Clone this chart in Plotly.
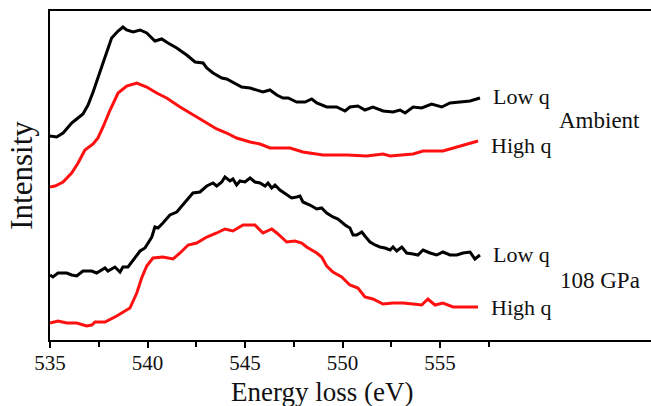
import plotly.graph_objects as go

# ---- Data (energy loss in eV, intensity in arbitrary units) ----
amb_low_E = [535.0, 535.34, 535.67, 536.11, 536.37, 536.69, 536.95, 537.21, 537.56, 537.91,
             538.16, 538.49, 538.74, 538.93, 539.26, 539.62, 539.96, 540.38, 540.73, 541.05,
             541.50, 542.01, 542.44, 542.85, 543.04, 543.36, 543.81, 544.06, 544.38, 544.83,
             545.26, 545.60, 545.92, 546.28, 546.63, 546.95, 547.21, 547.65, 548.08, 548.42,
             548.68, 549.19, 549.70, 550.13, 550.38, 550.79, 551.15, 551.56, 552.08, 552.59,
             552.95, 553.21, 553.62, 554.06, 554.57, 555.09, 555.51, 556.03, 556.54, 557.05]
amb_low_I = [204, 203, 207, 217, 221, 226, 235, 248, 268, 288,
             302, 309, 313, 310, 308, 310, 307, 299, 301, 297,
             292, 285, 278, 277, 272, 267, 262, 261, 258, 253,
             252, 250, 248, 250, 245, 242, 242, 238, 238, 241,
             237, 233, 233, 229, 233, 234, 230, 233, 229, 228,
             230, 227, 233, 232, 236, 233, 237, 238, 239, 242]

amb_high_E = [535.0, 535.26, 535.67, 536.11, 536.44, 536.79, 537.21, 537.46, 537.72, 538.08,
              538.49, 538.93, 539.45, 539.96, 540.47, 540.98, 541.67, 542.33, 543.04, 543.55,
              544.06, 544.57, 545.26, 545.77, 546.28, 547.31, 547.97, 549.0, 550.22, 551.24,
              552.08, 552.44, 553.62, 554.13, 555.15, 555.86, 556.95]
amb_high_I = [153, 154, 158, 167, 177, 190, 196, 202, 213, 230,
              247, 254, 257, 253, 247, 242, 233, 225, 217, 211,
              207, 202, 198, 196, 192, 192, 188, 185, 185, 184,
              186, 184, 186, 189, 189, 193, 199]

gpa_low_E = [535.0, 535.15, 535.41, 535.86, 536.11, 536.37, 536.69, 537.14, 537.39, 537.82,
             537.97, 538.33, 538.59, 538.74, 539.0, 539.26, 539.62, 539.87, 540.22, 540.38,
             540.54, 540.79, 541.15, 541.50, 542.01, 542.33, 542.69, 543.04, 543.36, 543.55,
             543.81, 543.97, 544.23, 544.38, 544.57, 544.74, 545.0, 545.26, 545.51, 545.77,
             546.03, 546.18, 546.37, 546.54, 546.79, 547.14, 547.39, 547.65, 547.82, 547.97,
             548.33, 548.68, 548.93, 549.19, 549.51, 549.77, 550.13, 550.38, 550.54, 550.73,
             550.99, 551.15, 551.41, 551.67, 551.92, 552.18, 552.44, 552.59, 552.78, 553.04,
             553.29, 553.62, 553.87, 554.13, 554.49, 554.83, 555.15, 555.51, 555.86, 556.18,
             556.54, 556.79, 557.05]
gpa_low_I = [65, 63, 67, 67, 65, 64, 69, 69, 67, 72,
             69, 73, 68, 73, 73, 80, 89, 92, 103, 113,
             112, 117, 125, 128, 140, 147, 148, 154, 157, 154,
             158, 163, 159, 161, 155, 159, 158, 162, 158, 157,
             154, 157, 152, 155, 150, 145, 142, 143, 144, 138,
             135, 131, 132, 127, 123, 121, 115, 112, 105, 105,
             108, 104, 98, 95, 93, 92, 90, 93, 89, 93,
             87, 86, 85, 90, 87, 85, 88, 85, 85, 87,
             88, 81, 85]

gpa_high_E = [535.0, 535.41, 535.86, 536.37, 536.88, 537.14, 537.31, 537.82, 538.42, 539.10,
              539.45, 539.70, 539.96, 540.28, 540.79, 541.31, 541.67, 542.08, 542.52, 543.04,
              543.55, 543.97, 544.38, 544.90, 545.51, 545.92, 546.37, 546.63, 547.14, 547.56,
              547.91, 548.16, 548.68, 548.93, 549.19, 549.51, 549.96, 550.38, 550.79, 551.15,
              551.56, 552.08, 552.59, 553.10, 553.62, 554.06, 554.38, 554.74, 555.15, 555.67,
              556.18, 556.95]
gpa_high_I = [17, 19, 17, 17, 14, 15, 18, 18, 24, 32,
              47, 62, 74, 82, 83, 81, 87, 95, 97, 103,
              107, 111, 109, 115, 115, 107, 111, 107, 98, 99,
              97, 93, 87, 83, 74, 68, 63, 55, 52, 43,
              41, 36, 37, 37, 36, 35, 41, 35, 37, 33,
              33, 33]

major_ticks = [535, 540, 545, 550, 555]
minor_ticks = [537.5, 542.5, 547.5, 552.5, 557.5]

FONT = "Liberation Serif"
RED = "#ff1010"
BLACK = "#000000"

fig = go.Figure()
for E, I, c in [(amb_low_E, amb_low_I, BLACK), (amb_high_E, amb_high_I, RED),
                (gpa_low_E, gpa_low_I, BLACK), (gpa_high_E, gpa_high_I, RED)]:
    fig.add_trace(go.Scatter(x=E, y=I, mode="lines", line=dict(color=c, width=3),
                             showlegend=False, hoverinfo="skip"))

labels = [("Low q", 557.6, 244, 22), ("High q", 557.5, 195, 22),
          ("Low q", 557.6, 86, 22), ("High q", 557.5, 33, 22),
          ("Ambient", 561.0, 220, 23), ("108 GPa", 561.05, 60, 23)]
for txt, x, y, s in labels:
    fig.add_annotation(x=x, y=y, xref="x", yref="y", text=txt, showarrow=False,
                       xanchor="left", yanchor="middle",
                       font=dict(family=FONT, size=s, color="#111"))

fig.add_annotation(x=0.4526, y=-0.158, xref="paper", yref="paper",
                   text="Energy loss (eV)", showarrow=False,
                   xanchor="center", yanchor="middle",
                   font=dict(family=FONT, size=27, color="#111"))

fig.update_layout(
    width=651, height=406,
    margin=dict(l=50, r=0, t=11, b=66),
    plot_bgcolor="white", paper_bgcolor="white",
    xaxis=dict(range=[535, 565.82], showgrid=False, zeroline=False,
               showline=True, linecolor="black", linewidth=2, mirror=True,
               tickvals=major_ticks, ticktext=[str(v) for v in major_ticks],
               ticks="outside", ticklen=6, tickwidth=2, tickcolor="black",
               ticklabelstandoff=-3,
               minor=dict(tickvals=minor_ticks, ticks="outside", ticklen=5,
                          tickwidth=2, tickcolor="black"),
               tickfont=dict(family=FONT, size=21, color="#111")),
    yaxis=dict(range=[0, 329], showgrid=False, zeroline=False,
               showline=True, linecolor="black", linewidth=2,
               showticklabels=False, ticks="",
               title=dict(text="Intensity", standoff=6,
                          font=dict(family=FONT, size=31, color="#111"))),
)

fig.write_html("out.html")
